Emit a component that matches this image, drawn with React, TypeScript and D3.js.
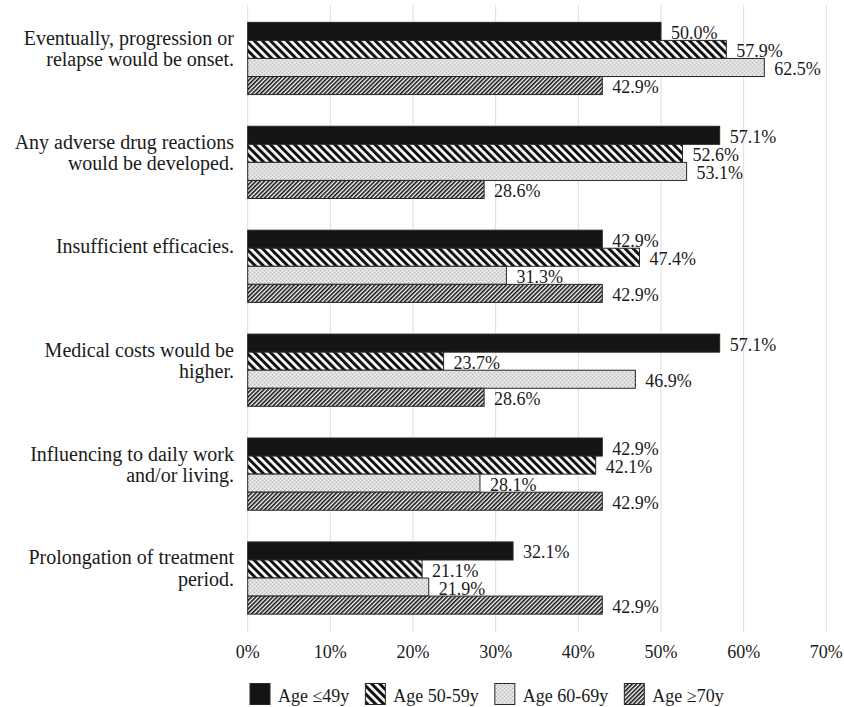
import React from "react";
import * as d3 from "d3";

const categories: string[][] = [
  ["Eventually, progression or", "relapse would be onset."],
  ["Any adverse drug reactions", "would be developed."],
  ["Insufficient efficacies."],
  ["Medical costs would be", "higher."],
  ["Influencing to daily work", "and/or living."],
  ["Prolongation of treatment", "period."],
];
const seriesNames = ["Age \u226449y", "Age 50-59y", "Age 60-69y", "Age \u226570y"];
const age49 = [50.0, 57.1, 42.9, 57.1, 42.9, 32.1];
const age5059 = [57.9, 52.6, 47.4, 23.7, 42.1, 21.1];
const age6069 = [62.5, 53.1, 31.3, 46.9, 28.1, 21.9];
const age70 = [42.9, 28.6, 42.9, 28.6, 42.9, 42.9];
const xTicks = [0, 10, 20, 30, 40, 50, 60, 70];

const seriesValues = [age49, age5059, age6069, age70];
const fills = ["#141414", "url(#pDiagWide)", "url(#pDots)", "url(#pDiagNarrow)"];
const FONT = '"Liberation Serif", "Times New Roman", serif';

function measure(text: string, size: number): number {
  const c = document.createElement("canvas");
  const ctx = c.getContext("2d");
  if (!ctx) return text.length * size * 0.5;
  ctx.font = `${size}px ${FONT}`;
  return ctx.measureText(text).width;
}

export default function App() {
  const W = 844;
  const H = 707;
  const x = d3.scaleLinear().domain([0, 70]).range([247.7, 826.3]);
  const y = d3
    .scaleBand<number>()
    .domain(categories.map((_, i) => i))
    .range([6.5, 630])
    .paddingInner(0.305)
    .paddingOuter(0.1525);
  const inner = d3
    .scaleBand<number>()
    .domain(seriesNames.map((_, i) => i))
    .range([0, y.bandwidth()]);

  const legendItems: { sx: number; tx: number; name: string; fill: string }[] = [];
  let lx = 250;
  seriesNames.forEach((name, i) => {
    const w = measure(name, 18);
    legendItems.push({ sx: lx, tx: lx + 28, name, fill: fills[i] });
    lx += 28 + w + 16;
  });

  return (
    <svg
      width={W}
      height={H}
      style={{ position: "absolute", left: 0, top: 0, background: "#fff" }}
      fontFamily={FONT}
    >
      <defs>
        <pattern id="pDiagWide" patternUnits="userSpaceOnUse" width={5.7} height={5.7} patternTransform="rotate(-45)">
          <rect width={5.7} height={5.7} fill="#fff" />
          <rect width={3.0} height={5.7} fill="#111" />
        </pattern>
        <pattern id="pDiagNarrow" patternUnits="userSpaceOnUse" width={3} height={3} patternTransform="rotate(45)">
          <rect width={3} height={3} fill="#fff" />
          <rect width={1.6} height={3} fill="#111" />
        </pattern>
        <pattern id="pDots" patternUnits="userSpaceOnUse" width={4} height={4}>
          <rect width={4} height={4} fill="#dedede" />
          <rect x={0} y={0} width={1} height={1} fill="#b4b4b4" />
          <rect x={2} y={2} width={1} height={1} fill="#b4b4b4" />
          <rect x={2} y={0} width={1} height={1} fill="#f4f4f4" />
          <rect x={0} y={2} width={1} height={1} fill="#f4f4f4" />
        </pattern>
      </defs>

      {xTicks.map((t) => (
        <line key={t} x1={x(t)} x2={x(t)} y1={5} y2={632} stroke="#dedede" strokeWidth={1} />
      ))}

      {categories.map((_, ci) => (
        <g key={ci} transform={`translate(0,${y(ci)})`}>
          {seriesValues.map((vals, si) => (
            <rect
              key={si}
              x={x(0)}
              y={inner(si)}
              width={x(vals[ci]) - x(0)}
              height={inner.bandwidth()}
              fill={fills[si]}
              stroke="#262626"
              strokeWidth={1}
            />
          ))}
          {seriesValues.map((vals, si) => (
            <text
              key={"t" + si}
              x={x(vals[ci]) + 10}
              y={(inner(si) as number) + inner.bandwidth() / 2 + 7.5}
              fontSize={18}
              fill="#1a1a1a"
            >
              {vals[ci].toFixed(1) + "%"}
            </text>
          ))}
        </g>
      ))}

      {categories.map((lines, ci) => (
        <text key={"c" + ci} fontSize={20} fill="#1a1a1a" textAnchor="end">
          {lines.map((ln, li) => (
            <tspan key={li} x={234} y={(y(ci) as number) + 22.5 + li * 21.5}>
              {ln}
            </tspan>
          ))}
        </text>
      ))}

      {xTicks.map((t) => (
        <text key={"x" + t} x={x(t)} y={658} fontSize={18} textAnchor="middle" fill="#1a1a1a">
          {t + "%"}
        </text>
      ))}

      {legendItems.map((it, i) => (
        <g key={"l" + i}>
          <rect x={it.sx} y={683.5} width={20} height={21} fill={it.fill} stroke="#262626" strokeWidth={1} />
          <text x={it.tx} y={702} fontSize={18} fill="#1a1a1a">
            {it.name}
          </text>
        </g>
      ))}
    </svg>
  );
}
